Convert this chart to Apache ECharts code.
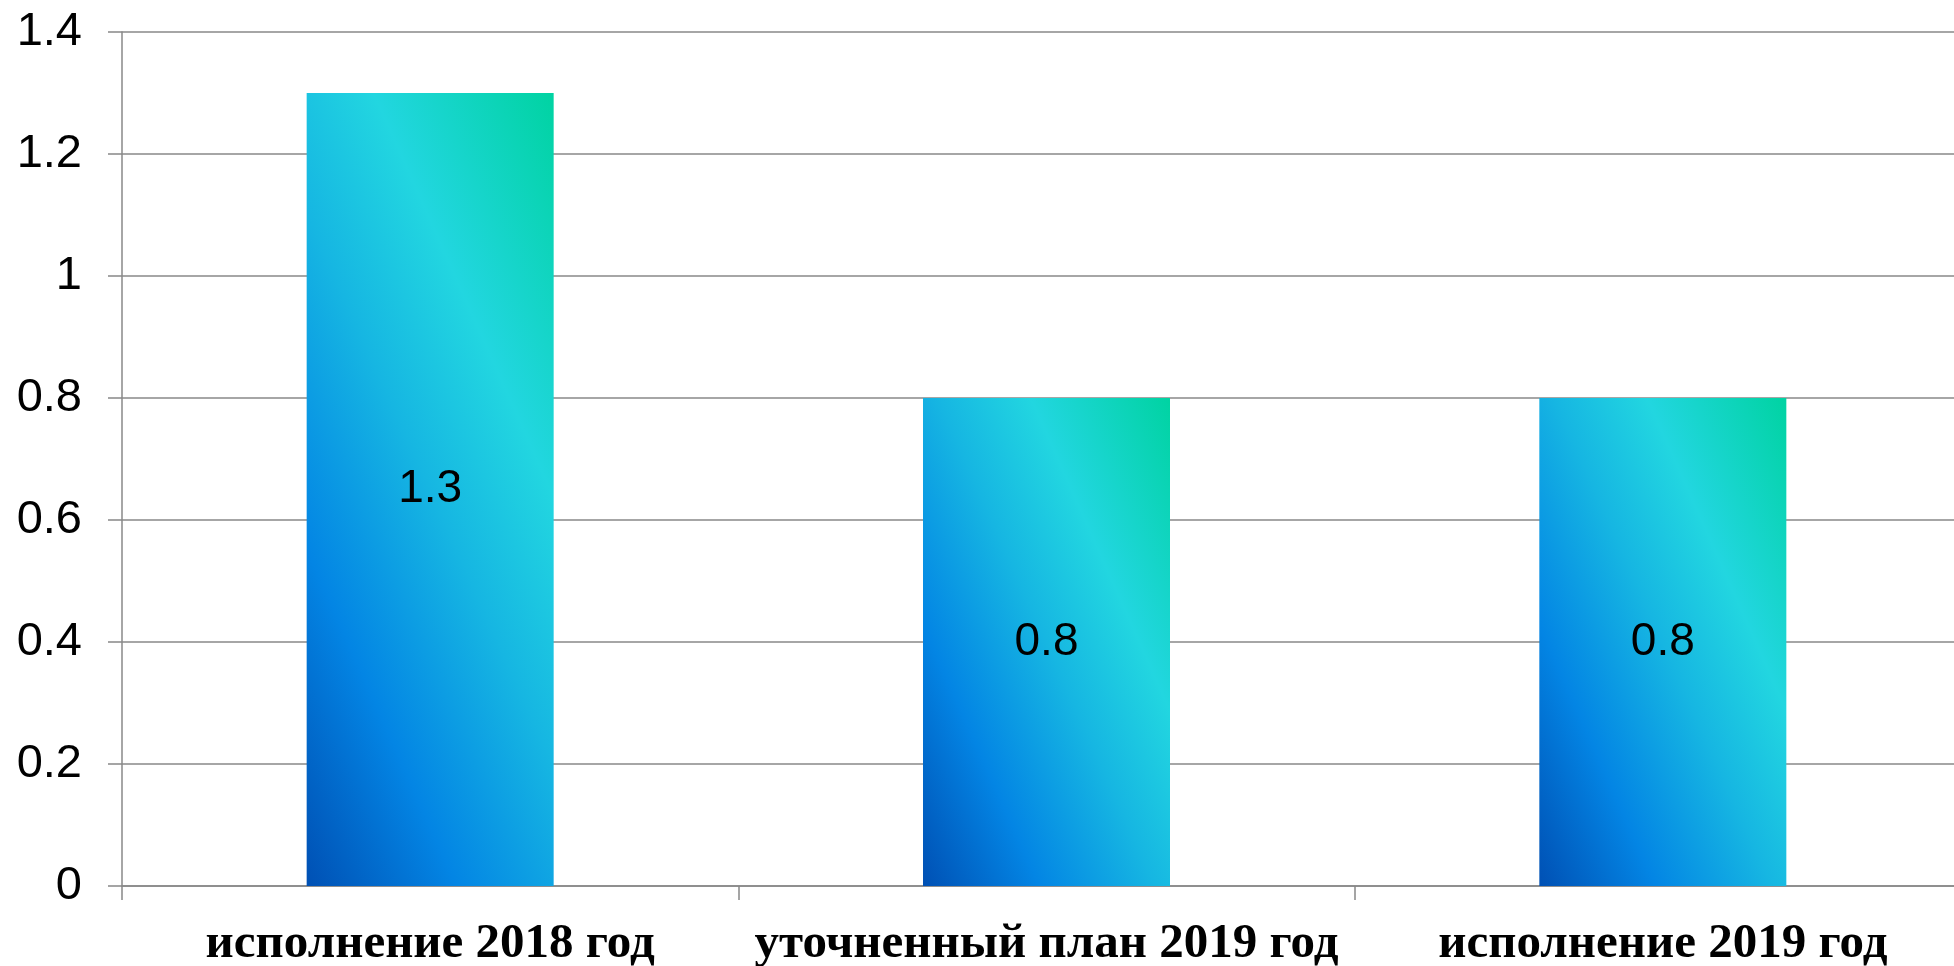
<!DOCTYPE html>
<html>
<head>
<meta charset="utf-8">
<script src="https://cdn.jsdelivr.net/npm/echarts@6/dist/echarts.min.js"></script>
<style>html,body{margin:0;padding:0;background:#fff;}#chart{width:1954px;height:966px;}</style>
</head>
<body>
<div id="chart"></div>
<script>
const categories = ['исполнение 2018 год', 'уточненный план 2019 год', 'исполнение 2019 год'];
const values = [1.3, 0.8, 0.8];
const yTicks = { min: 0, max: 1.4, interval: 0.2 };

const GRID_H = 854, BAR_W = 247;
const gradStops = [
  { offset: 0, color: '#0050b4' },
  { offset: 0.25, color: '#0385e4' },
  { offset: 0.5, color: '#16b6e2' },
  { offset: 0.7, color: '#22d6e0' },
  { offset: 1, color: '#00d3a2' }
];
// gradient at a fixed on-screen angle, from bottom-left corner to top-right corner
function makeGradient(v) {
  const h = (v - yTicks.min) / (yTicks.max - yTicks.min) * GRID_H;
  const ang = 24 * Math.PI / 180;
  const c = Math.cos(ang), s = Math.sin(ang);
  const L = BAR_W * c + h * s;
  return new echarts.graphic.LinearGradient(0, 1, L * c / BAR_W, 1 - L * s / h, gradStops);
}

const chart = echarts.init(document.getElementById('chart'), null, { renderer: 'canvas' });
chart.setOption({
  animation: false,
  backgroundColor: '#ffffff',
  grid: { left: 122, top: 32, width: 1849, height: GRID_H, containLabel: false, outerBoundsMode: 'none' },
  xAxis: {
    type: 'category',
    data: categories,
    boundaryGap: true,
    axisLine: { show: true, lineStyle: { color: '#888', width: 1.5 } },
    axisTick: { show: true, length: 14, alignWithLabel: false, lineStyle: { color: '#888', width: 1.5 } },
    axisLabel: {
      margin: 34,
      interval: 0,
      color: '#000',
      fontFamily: '"Liberation Serif", "Times New Roman", serif',
      fontWeight: 'bold',
      fontSize: 49
    }
  },
  yAxis: {
    type: 'value',
    min: yTicks.min,
    max: yTicks.max,
    interval: yTicks.interval,
    axisLine: { show: true, lineStyle: { color: '#888', width: 1.5 } },
    axisTick: { show: true, length: 14, lineStyle: { color: '#888', width: 1.5 } },
    splitLine: { show: true, lineStyle: { color: '#888', width: 1.5 } },
    axisLabel: {
      margin: 40,
      color: '#000',
      fontFamily: '"Liberation Sans", Arial, sans-serif',
      fontSize: 47
    }
  },
  series: [{
    type: 'bar',
    data: values.map(v => ({ value: v, itemStyle: { color: makeGradient(v) } })),
    barWidth: BAR_W,
    label: {
      show: true,
      position: 'inside',
      color: '#000',
      fontFamily: '"Liberation Sans", Arial, sans-serif',
      fontSize: 46
    }
  }]
});
</script>
</body>
</html>
